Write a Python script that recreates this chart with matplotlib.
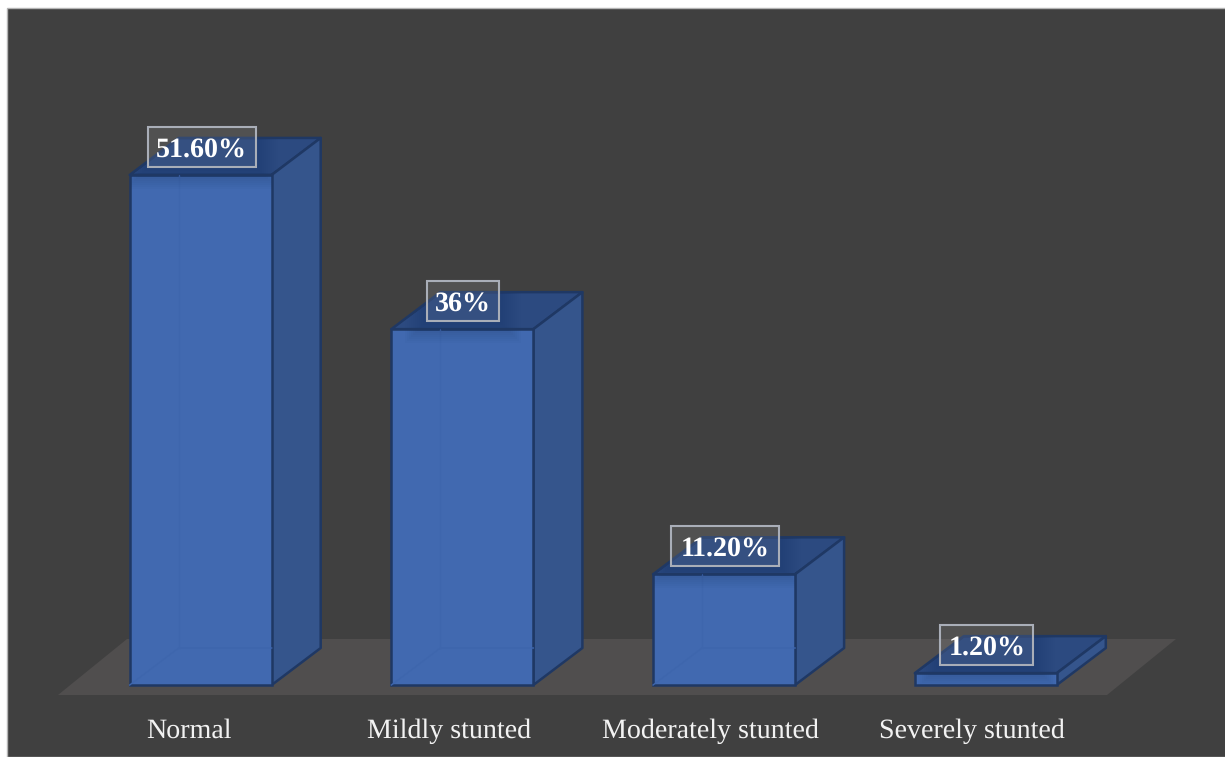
import matplotlib
matplotlib.use("Agg")
import matplotlib.pyplot as plt
from matplotlib.patches import Polygon, Rectangle

categories = ["Normal", "Mildly stunted", "Moderately stunted", "Severely stunted"]
values = [51.6, 36.0, 11.2, 1.2]
value_labels = ["51.60%", "36%", "11.20%", "1.20%"]

W, H = 1225, 757
BAR_STEP = 261.7      # px between neighbouring categories
FIRST_X = 200.7       # px centre of the first category
BASE_Y = 685.0        # px of the value-axis zero
PX_PER_UNIT = 9.885   # px per percentage point
BAR_W = 142 / BAR_STEP
DX = 49 / BAR_STEP    # oblique depth of the 3D boxes
DY = 37 / PX_PER_UNIT

BG = "#404040"
FLOOR = "#504E4E"
FRONT = "#4169B0"
SIDE = "#35558C"
TOP = "#2C4A80"
EDGE = "#1F3864"
GHOST = "#3E66AD"

plt.rcParams["font.family"] = ["Liberation Serif", "DejaVu Serif"]
plt.rcParams["text.hinting"] = "no_hinting"
plt.rcParams["text.hinting_factor"] = 1
plt.rcParams["text.kerning_factor"] = 0

fig = plt.figure(figsize=(W / 100, H / 100), dpi=100, facecolor="white")
ax = fig.add_axes([0, 0, 1, 1])
ax.set_xlim(-FIRST_X / BAR_STEP, (W - FIRST_X) / BAR_STEP)
ax.set_ylim(-(H - BASE_Y) / PX_PER_UNIT, BASE_Y / PX_PER_UNIT)
ax.axis("off")


def sx(px):
    return px / BAR_STEP


def sy(px):
    return px / PX_PER_UNIT


# chart background with its thin light border
x_left = -FIRST_X / BAR_STEP + sx(7)
ax.add_patch(Rectangle((x_left, -(H - BASE_Y) / PX_PER_UNIT), sx(W), (H - 8) / PX_PER_UNIT,
                       fc=BG, ec="#B4B4B4", lw=1.0, zorder=0))

# floor of the 3D plot
floor_x0, floor_x1 = sx(58 - FIRST_X), sx(1107 - FIRST_X)
floor_low, floor_high = -sy(10), sy(46)
ax.add_patch(Polygon([(floor_x0, floor_low), (floor_x1, floor_low),
                      (floor_x1 + sx(69), floor_high), (floor_x0 + sx(69), floor_high)],
                     fc=FLOOR, ec="none", zorder=1))

for i, (v, cat, lab) in enumerate(zip(values, categories, value_labels)):
    l, r = i - BAR_W / 2, i + BAR_W / 2
    z = 2 + i
    # top and side faces
    top_face = Polygon([(l, v), (r, v), (r + DX, v + DY), (l + DX, v + DY)],
                       fc=TOP, ec=EDGE, lw=1.8, joinstyle="round", zorder=z)
    ax.add_patch(top_face)
    ax.add_patch(Polygon([(r, 0), (r + DX, DY), (r + DX, v + DY), (r, v)],
                         fc=SIDE, ec=EDGE, lw=1.8, joinstyle="round", zorder=z))

    # translucent front face, with the hidden back edges showing through
    front_face = Rectangle((l, 0), BAR_W, v, fc=FRONT, ec=EDGE, lw=1.8, zorder=z + 0.2)
    ax.add_patch(front_face)
    if v > DY:
        ax.plot([l, l + DX, r], [0, DY, DY], color=GHOST, lw=1.0, zorder=z + 0.3)
        ax.plot([l + DX, l + DX], [DY, v], color=GHOST, lw=1.0, zorder=z + 0.3)

    # soft shadow cast by the value label on the box faces
    cx, cy = i + sx(1.0), v + sy(28)
    half_w = sx(54 if len(lab) == 6 else (36 if len(lab) == 3 else 46.5))
    half_h = sy(20)
    for grow in range(22, 0, -2):
        for face in (top_face, front_face):
            shade = Rectangle((cx - half_w - sx(grow), cy - half_h - sy(grow)),
                              2 * half_w + sx(2 * grow), 2 * half_h + sy(2 * grow),
                              fc=EDGE, ec="none", alpha=0.035, zorder=z + 0.35)
            ax.add_patch(shade)
            shade.set_clip_path(face)

    # category label under the floor
    ax.text((188.5 + 261 * i - FIRST_X) / BAR_STEP, -sy(43.5), cat, ha="center", va="center_baseline",
            color="#F2F2F2", fontsize=20, zorder=20)

    # value label in a translucent outlined box
    ax.add_patch(Rectangle((cx - half_w, cy - half_h), 2 * half_w, 2 * half_h,
                           fc=(1, 1, 1, 0.09), ec="#A9AEB8", lw=1.5, zorder=z + 0.5))
    ax.text(cx, cy - sy(0.5), lab, ha="center", va="center_baseline", color="white",
            fontsize=20, fontweight="bold", zorder=z + 0.6)

fig.savefig("out.png", dpi=100, facecolor="white")
